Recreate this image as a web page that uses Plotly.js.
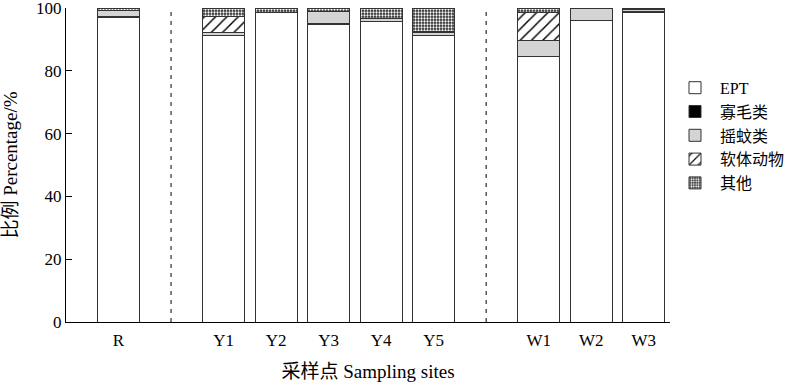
<!DOCTYPE html>
<html>
<head>
<meta charset="utf-8">
<script src="https://cdn.plot.ly/plotly-3.0.1.min.js"></script>
<style>html,body{margin:0;padding:0;background:#fff;}#chart{width:800px;height:383px;}</style>
</head>
<body>
<div id="chart"></div>
<script>
// Sites and their positions along the x axis (gaps at 1 and 7 for separators)
var sites = ["R", "Y1", "Y2", "Y3", "Y4", "Y5", "W1", "W2", "W3"];
var sitePos = [0, 2, 3, 4, 5, 6, 8, 9, 10];
var separatorPos = [1, 7];

// Series values (%)
var ept      = [96.9, 91.3, 98.5, 94.8, 95.7, 91.3, 84.7, 95.9, 98.6];
var oligo    = [0.3,  0.0,  0.0,  0.2,  0.0,  0.0,  0.0,  0.0,  0.4];
var chiro    = [1.9,  1.0,  0.0,  4.0,  1.1,  1.0,  4.9,  4.1,  0.6];
var mollusca = [0.0,  5.0,  0.0,  0.0,  0.0,  0.2,  9.1,  0.0,  0.0];
var others   = [0.9,  2.7,  1.5,  1.0,  3.2,  7.5,  1.3,  0.0,  0.4];

var seriesNames = ["EPT", "寡毛类", "摇蚊类", "软体动物", "其他"];

var FONT = "'Liberation Serif', 'Times New Roman', 'Noto Sans CJK SC', serif";
var lineStyle = {color: "#333", width: 1};
var W = 0.8;

function bar(name, y, marker) {
  marker.line = lineStyle;
  return {type: "bar", name: name, x: sitePos, y: y, width: W, marker: marker, hoverinfo: "y+name"};
}

var data = [
  bar(seriesNames[0], ept, {color: "#ffffff"}),
  bar(seriesNames[1], oligo, {color: "#000000"}),
  bar(seriesNames[2], chiro, {color: "#d4d4d4"}),
  bar(seriesNames[3], mollusca, {color: "#ffffff", pattern: {shape: "/", fgcolor: "#000", bgcolor: "#fff", size: 8, solidity: 0.18}}),
  bar(seriesNames[4], others, {color: "#333333", pattern: {shape: ".", fgcolor: "#ffffff", bgcolor: "#2a2a2a", size: 3, solidity: 0.45}})
];

var shapes = separatorPos.map(function (p) {
  return {type: "line", xref: "x", yref: "y", x0: p, x1: p, y0: 0, y1: 100,
          line: {color: "#000", width: 1, dash: "4px,5px"}};
});

var layout = {
  width: 800, height: 383,
  margin: {l: 66, r: 130, t: 8, b: 61},
  paper_bgcolor: "#fff", plot_bgcolor: "#fff",
  barmode: "stack",
  bargap: 0.2,
  font: {family: FONT, size: 17, color: "#000"},
  showlegend: true,
  legend: {x: 1.0, y: 0.80, xanchor: "left", yanchor: "top", traceorder: "normal",
           font: {family: FONT, size: 16, color: "#000"}, bgcolor: "rgba(0,0,0,0)",
           itemwidth: 40, tracegroupgap: 0},
  xaxis: {
    range: [-1, 10.5], tickmode: "array", tickvals: sitePos, ticktext: sites,
    showline: true, linecolor: "#000", linewidth: 1.2, ticks: "", showgrid: false,
    zeroline: false, fixedrange: true, ticklabelstandoff: 2,
    title: {text: "采样点 Sampling sites", font: {family: FONT, size: 19}, standoff: 16}
  },
  yaxis: {
    range: [0, 100], tickvals: [0, 20, 40, 60, 80, 100],
    showline: true, linecolor: "#000", linewidth: 1.2, ticks: "inside", ticklen: 6,
    tickcolor: "#000", showgrid: false, zeroline: false, fixedrange: true,
    ticklabeloverflow: "allow",
    title: {text: "比例 Percentage/%", font: {family: FONT, size: 19}, standoff: 16}
  },
  shapes: shapes
};

Plotly.newPlot("chart", data, layout, {displayModeBar: false, staticPlot: true});
</script>
</body>
</html>
